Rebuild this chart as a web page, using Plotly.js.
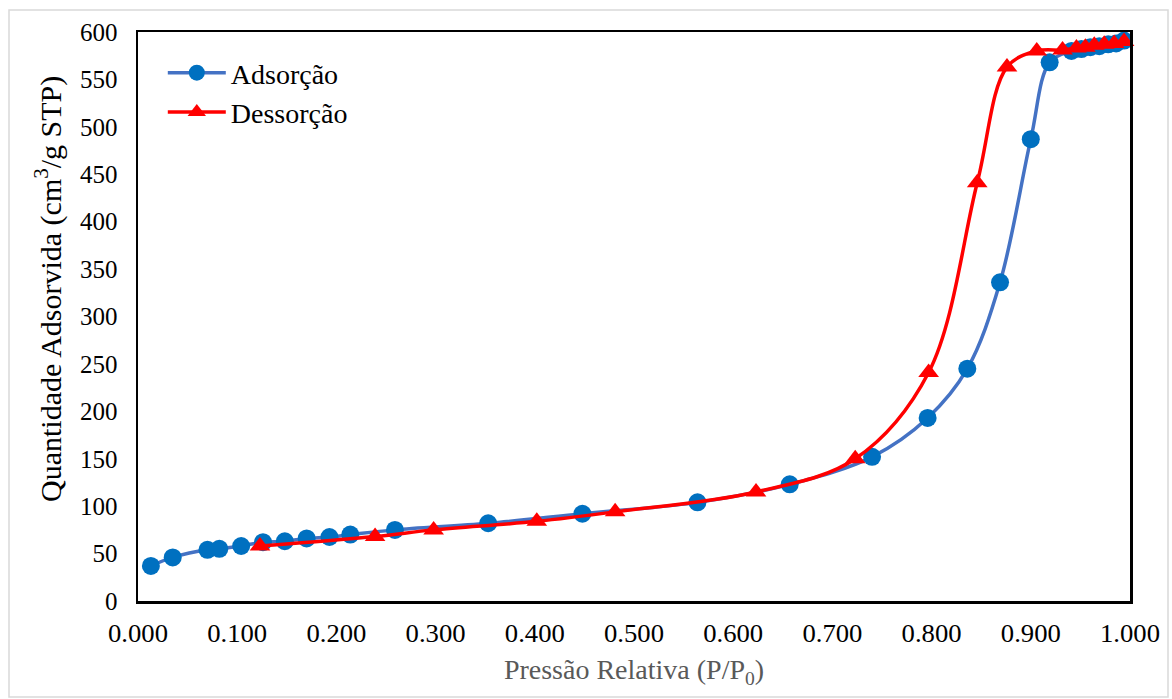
<!DOCTYPE html>
<html>
<head>
<meta charset="utf-8">
<script src="https://cdn.plot.ly/plotly-3.0.1.min.js"></script>
<style>
  html, body { margin: 0; padding: 0; background: #ffffff; }
  #chart { width: 1172px; height: 699px; }
</style>
</head>
<body>
<div id="chart"></div>
<script>
// Adsorption branch (P/P0, quantity adsorbed cm3/g STP)
const adsX = [0.013, 0.035, 0.070, 0.082, 0.104, 0.126, 0.148, 0.170, 0.193, 0.214, 0.259, 0.353, 0.448, 0.564, 0.657, 0.740, 0.796, 0.836, 0.869, 0.900, 0.919, 0.941, 0.951, 0.960, 0.969, 0.978, 0.986, 0.994];
const adsY = [37, 46, 54, 55, 58, 62, 63, 66, 67.5, 70, 75, 82, 92, 104, 123, 152, 193, 245, 336, 487, 568, 580, 582, 584, 585, 587, 588, 591];

// Desorption branch
const desX = [0.994, 0.984, 0.974, 0.964, 0.955, 0.946, 0.932, 0.906, 0.876, 0.846, 0.797, 0.723, 0.623, 0.481, 0.402, 0.298, 0.239, 0.123];
const desY = [590, 588, 587, 586, 584, 583, 581, 580, 563, 441, 241, 150, 115, 94, 84, 75, 68, 58];

const seriesNames = ["Adsorção", "Dessorção"];
const xTitle = "Pressão Relativa (P/P<sub>0</sub>)";
const yTitle = "Quantidade Adsorvida (cm<sup>3</sup>/g STP)";

const serif = "Times New Roman, Liberation Serif, DejaVu Serif, serif";

const traces = [
  {
    x: adsX, y: adsY, name: seriesNames[0],
    type: "scatter", mode: "lines+markers",
    line: { color: "#4472C4", width: 3.5, shape: "spline", smoothing: 1 },
    marker: { symbol: "circle", size: 18, color: "#0070C0" },
    cliponaxis: false
  },
  {
    x: desX, y: desY, name: seriesNames[1],
    type: "scatter", mode: "lines+markers",
    line: { color: "#FF0000", width: 3.5, shape: "spline", smoothing: 1 },
    marker: { symbol: "triangle-up", size: 18, color: "#FF0000" },
    cliponaxis: false
  }
];

const L = 138, R = 1130, T = 32, B = 601;
const W = 1172, H = 699;
const px = v => (v - L) / (R - L);
const py = v => (B - v) / (B - T);

const layout = {
  width: W, height: H,
  margin: { l: L, r: W - R, t: T, b: H - B, pad: 0 },
  paper_bgcolor: "#ffffff",
  plot_bgcolor: "#ffffff",
  font: { family: serif, color: "#000000", size: 25 },
  showlegend: true,
  legend: {
    x: 0.025, y: py(48), xanchor: "left", yanchor: "top",
    bgcolor: "rgba(0,0,0,0)", borderwidth: 0,
    font: { family: serif, size: 28, color: "#000000" },
    tracegroupgap: 0, itemwidth: 58
  },
  xaxis: {
    range: [0, 1], dtick: 0.1, tick0: 0, tickformat: ".3f",
    showgrid: false, zeroline: false,
    showline: true, linecolor: "#000000", linewidth: 2.5, mirror: true,
    ticks: "", ticklabelstandoff: 8,
    tickfont: { family: serif, size: 25, color: "#000000" },
    title: { text: xTitle, standoff: 14, font: { family: serif, size: 28, color: "#595959" } },
    automargin: false, fixedrange: true
  },
  yaxis: {
    range: [0, 600], dtick: 50, tick0: 0,
    showgrid: false, zeroline: false,
    showline: true, linecolor: "#000000", linewidth: 2.5, mirror: true,
    ticks: "", ticklabelstandoff: 13,
    tickfont: { family: serif, size: 25, color: "#000000" },
    title: { text: "" },
    automargin: false, fixedrange: true
  },
  annotations: [
    {
      text: yTitle, xref: "paper", yref: "paper",
      x: px(48), y: py(289), xanchor: "center", yanchor: "middle",
      textangle: -90, showarrow: false,
      font: { family: serif, size: 30, color: "#000000" }
    }
  ],
  shapes: [
    {
      type: "rect", xref: "paper", yref: "paper", layer: "below",
      x0: px(9), x1: px(1168), y0: py(697), y1: py(10),
      line: { color: "#d9d9d9", width: 1.5 }, fillcolor: "rgba(0,0,0,0)"
    }
  ]
};

Plotly.newPlot("chart", traces, layout, { staticPlot: true, displayModeBar: false }).then(function (gd) {
  // x tick labels in the reference are horizontally condensed
  gd.querySelectorAll(".xtick text").forEach(function (t) {
    t.setAttribute("textLength", "60");
    t.setAttribute("lengthAdjust", "spacingAndGlyphs");
  });
});
</script>
</body>
</html>
